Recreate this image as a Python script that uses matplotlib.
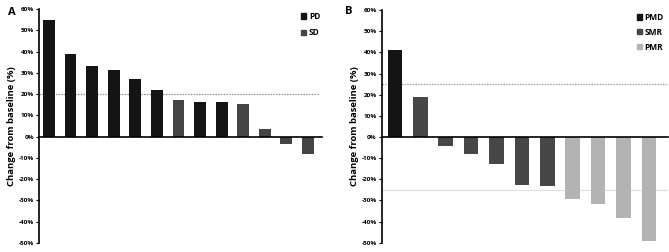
import matplotlib.pyplot as plt
from matplotlib.patches import Patch
from matplotlib.ticker import FuncFormatter

plt.rcParams["font.family"] = ["Open Sans", "DejaVu Sans"]

# Panel A data
a_values = [54.7, 38.8, 33.2, 31.4, 26.9, 21.7, 17.1, 16.5, 16.4, 15.4, 3.8, -3.4, -8.0]
a_groups = ["PD", "PD", "PD", "PD", "PD", "PD", "SD", "PD", "PD", "SD", "SD", "SD", "SD"]

# Panel B data
b_values = [41.0, 18.7, -4.1, -8.0, -12.6, -22.8, -23.1, -29.4, -31.8, -38.1, -49.4]
b_groups = ["PMD", "SMR", "SMR", "SMR", "SMR", "SMR", "SMR", "PMR", "PMR", "PMR", "PMR"]

colors = {"PD": "#141414", "SD": "#444444",
          "PMD": "#141414", "SMR": "#474747", "PMR": "#b3b3b3"}

ticks = list(range(-50, 61, 10))
pct = FuncFormatter(lambda v, p: "%d%%" % v)

fig = plt.figure(figsize=(6.69, 2.52), dpi=100)
ax1 = fig.add_axes([0.0583, 0.036, 0.423, 0.928])
ax2 = fig.add_axes([0.5705, 0.037, 0.428, 0.923])


def style(ax):
    ax.set_ylim(-50, 60)
    ax.set_yticks(ticks)
    ax.yaxis.set_major_formatter(pct)
    for lab in ax.get_yticklabels():
        lab.set_fontweight("bold")
    ax.tick_params(axis="y", labelsize=4.6, length=2, width=0.8, pad=1.5)
    ax.tick_params(axis="x", bottom=False, labelbottom=False)
    ax.spines["top"].set_visible(False)
    ax.spines["right"].set_visible(False)
    ax.spines["bottom"].set_position(("data", 0))
    ax.spines["left"].set_linewidth(1.2)
    ax.spines["bottom"].set_linewidth(1.2)
    ax.set_ylabel("Change from baseline (%)", fontsize=6.8, fontweight="bold", labelpad=2)


# Panel A
x1 = range(len(a_values))
ax1.bar(x1, a_values, width=0.55, color=[colors[g] for g in a_groups], zorder=2)
ax1.set_xlim(-0.46, len(a_values) - 0.35)
ax1.axhline(20, xmax=0.99, color="#909090", linestyle=(0, (1.2, 1.0)), linewidth=0.9, zorder=1)
style(ax1)
ax1.legend(handles=[Patch(color=colors[g], label=g) for g in ["PD", "SD"]],
           loc="upper right", bbox_to_anchor=(1.02, 1.02), frameon=False,
           prop={"size": 6, "weight": "bold"}, handlelength=0.6, handleheight=0.6,
           handletextpad=0.3, labelspacing=0.9)
fig.text(0.012, 0.95, "A", fontsize=8, fontweight="bold", va="center")

# Panel B
x2 = range(len(b_values))
ax2.bar(x2, b_values, width=0.57, color=[colors[g] for g in b_groups], zorder=2)
ax2.set_xlim(-0.52, len(b_values) - 0.25)
ax2.axhline(25, color="#a0a0a0", linestyle=(0, (1.2, 1.0)), linewidth=0.9, zorder=1)
ax2.axhline(-25, color="#e0e0e0", linewidth=0.8, zorder=1)
style(ax2)
ax2.legend(handles=[Patch(color=colors[g], label=g) for g in ["PMD", "SMR", "PMR"]],
           loc="upper right", bbox_to_anchor=(1.01, 1.02), frameon=False,
           prop={"size": 6, "weight": "bold"}, handlelength=0.6, handleheight=0.6,
           handletextpad=0.3, labelspacing=0.7)
fig.text(0.516, 0.955, "B", fontsize=8, fontweight="bold", va="center")

fig.savefig("out.png", dpi=100)
